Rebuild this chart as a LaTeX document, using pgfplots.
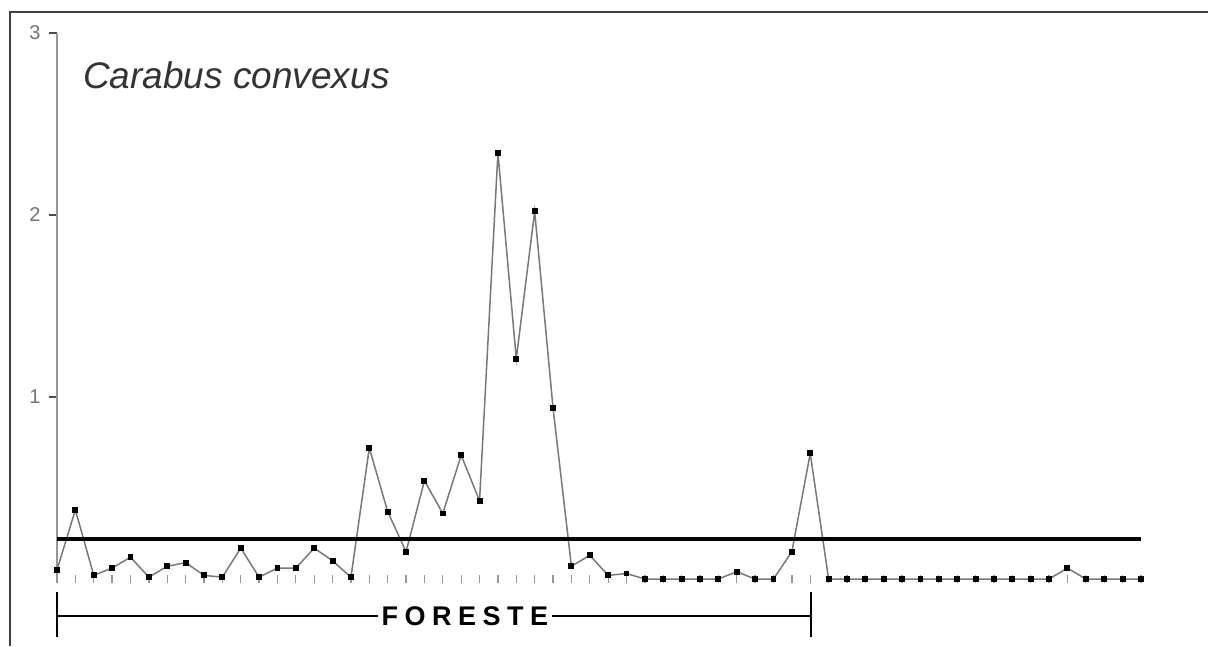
\documentclass[border=0pt]{standalone}
\usepackage{fontspec}
\setmainfont{Liberation Sans}
\usepackage{pgfplots}
\pgfplotsset{compat=1.18}
\definecolor{axisgray}{RGB}{150,150,150}
\definecolor{linegray}{RGB}{120,120,120}
\begin{document}
\begin{tikzpicture}
\useasboundingbox (-57pt,-67pt) rectangle (1151pt,579pt);
\begin{axis}[
  at={(0pt,0pt)}, anchor=south west,
  scale only axis, width=1084pt, height=546pt,
  xmin=0, xmax=59, ymin=0, ymax=3,
  axis lines*=left,
  axis line style={-},
  x axis line style={draw=none},
  y axis line style={axisgray, line width=1.3pt},
  xtick={0,...,59}, xticklabels={},
  ytick={1,2,3},
  major tick length=8pt,
  xtick align=center,
  ytick align=outside,
  xtick style={axisgray, line width=1.3pt},
  ytick style={black!70, line width=1.3pt},
  yticklabel style={font=\fontsize{20}{24}\selectfont, text=black!55, xshift=-5pt},
  /pgf/number format/assume math mode=true,
  clip=false,
]
\addplot[linegray, line width=1.5pt, mark=square*, mark size=2.2pt,
  mark options={black, fill=black}] coordinates {
(0,0.05) (1,0.38) (2,0.02) (3,0.06) (4,0.12) (5,0.01) (6,0.07) (7,0.09)
(8,0.02) (9,0.01) (10,0.17) (11,0.01) (12,0.06) (13,0.06) (14,0.17) (15,0.10)
(16,0.01) (17,0.72) (18,0.37) (19,0.15) (20,0.54) (21,0.36) (22,0.68) (23,0.43)
(24,2.34) (25,1.21) (26,2.02) (27,0.94) (28,0.07) (29,0.13) (30,0.02) (31,0.03)
(32,0) (33,0) (34,0) (35,0) (36,0) (37,0.04) (38,0) (39,0)
(40,0.15) (41,0.69) (42,0) (43,0) (44,0) (45,0) (46,0) (47,0)
(48,0) (49,0) (50,0) (51,0) (52,0) (53,0) (54,0) (55,0.06)
(56,0) (57,0) (58,0) (59,0)
};
\addplot[black, line width=3.2pt] coordinates {(0,0.22) (59,0.22)};
\end{axis}
% frame (top and left edges of the original figure)
\draw[line width=1.3pt, black!75] (-47pt,-67pt) -- (-47pt,567pt) -- (1151pt,567pt);
% title
\node[anchor=west, font=\fontsize{37}{42}\selectfont\itshape, text=black!80, inner sep=0pt] at (26pt,504pt) {Carabus convexus};
% FORESTE bracket
\draw[line width=2pt] (0pt,-13pt) -- (0pt,-58pt);
\draw[line width=2pt] (754pt,-13pt) -- (754pt,-58pt);
\draw[line width=1.6pt] (0pt,-37pt) -- (321pt,-37pt);
\draw[line width=1.6pt] (495pt,-37pt) -- (754pt,-37pt);
\node[font=\fontsize{27}{32}\selectfont\bfseries, inner sep=0pt] at (408pt,-37pt) {F\hspace{6.5pt}O\hspace{6.5pt}R\hspace{6.5pt}E\hspace{6.5pt}S\hspace{6.5pt}T\hspace{6.5pt}E};
\end{tikzpicture}
\end{document}
